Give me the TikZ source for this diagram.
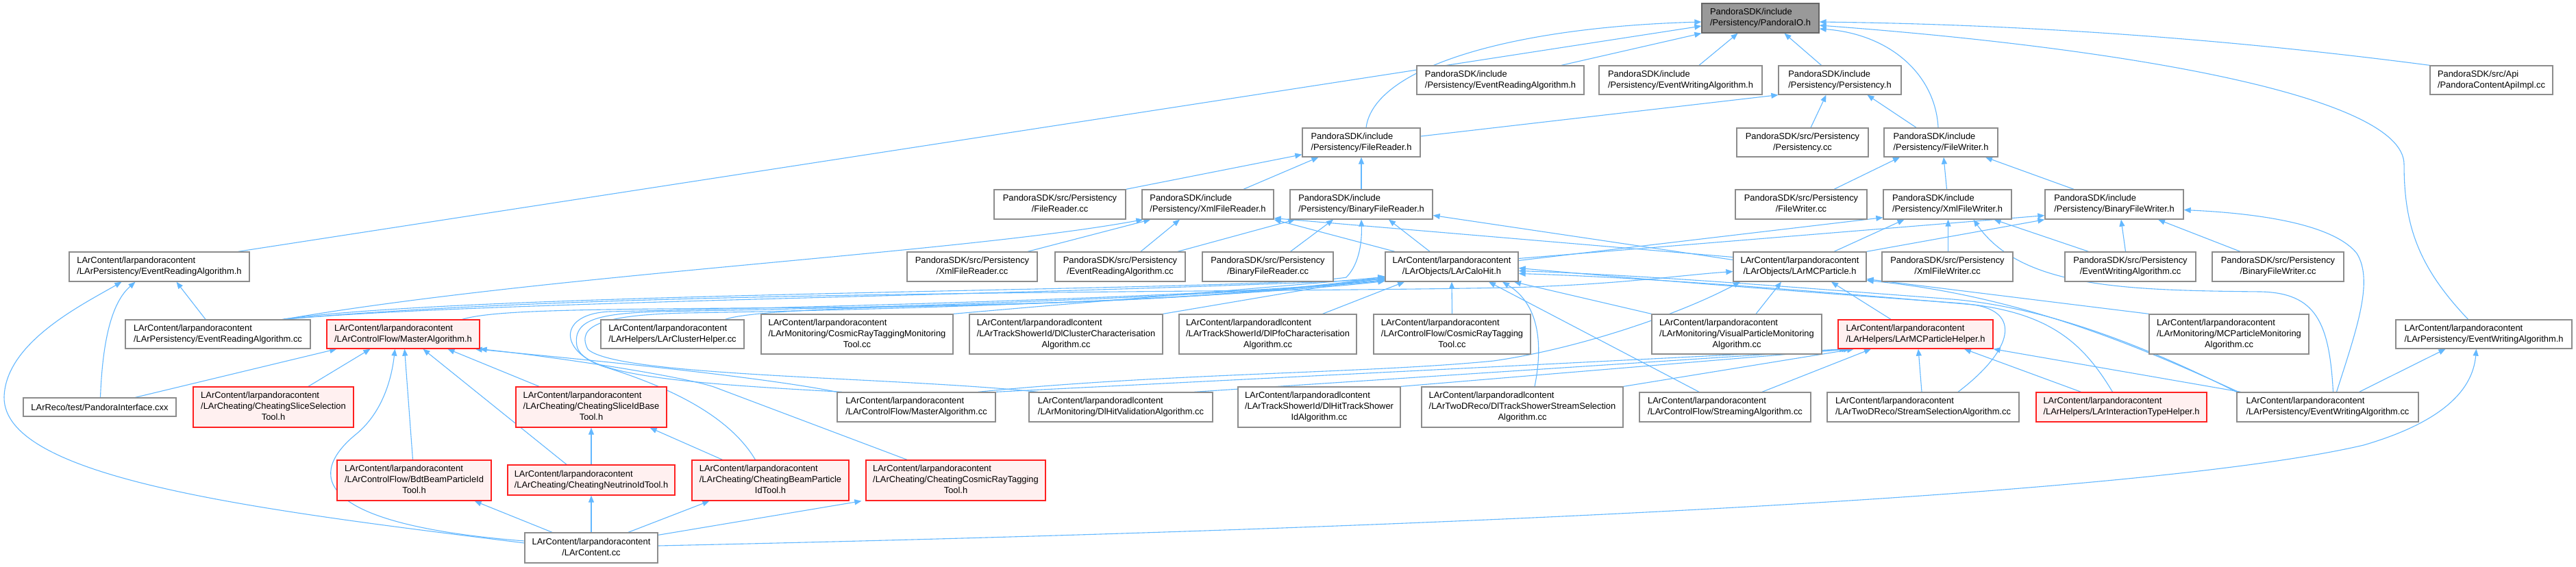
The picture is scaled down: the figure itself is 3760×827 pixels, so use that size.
\documentclass[tikz,border=0pt]{standalone}
\usepackage{fontspec}
\setmainfont{Liberation Sans}
\usetikzlibrary{arrows.meta}
\definecolor{edgecol}{HTML}{63B8FF}
\definecolor{boxdraw}{HTML}{8C8C8C}
\definecolor{redfill}{HTML}{FFF0F0}
\definecolor{redline}{HTML}{FF2020}
\definecolor{mainfill}{HTML}{999999}
\definecolor{maindraw}{HTML}{666666}
\pgfdeclarelayer{bg}
\pgfsetlayers{bg,main}
\newcommand\tw[2]{\begin{tabular}{@{}c@{}}\multicolumn{1}{@{}l@{}}{#1}\\#2\end{tabular}}
\newcommand\tri[3]{\begin{tabular}{@{}c@{}}\multicolumn{1}{@{}l@{}}{#1}\\\multicolumn{1}{@{}l@{}}{#2}\\#3\end{tabular}}
\newcommand\nb[7]{\node[#2,minimum width={#5-#3},minimum height={#6-#4}] (#1) at ({(#3+#5)/2},{(#4+#6)/2}) {#7};}
\tikzset{
  box/.style={draw=boxdraw, fill=white, line width=1.3pt, inner sep=0pt, text=black, font=\fontsize{12.9}{16}\selectfont},
  hot/.style={box, draw=redline, fill=redfill},
  mainbox/.style={box, draw=maindraw, fill=mainfill},
  edge/.style={draw=edgecol, line width=1.1pt, -{Triangle[length=10pt,width=8pt]}}
}
\begin{document}
\begin{tikzpicture}[x=1pt,y=-1pt]
\useasboundingbox (0,0) rectangle (3760,827);
% ---------- nodes ----------
\nb{io}{mainbox}{2484}{5}{2655}{48}{\tw{PandoraSDK/include}{/Persistency/PandoraIO.h}}
\nb{sera}{box}{2068}{96}{2312}{138}{\tw{PandoraSDK/include}{/Persistency/EventReadingAlgorithm.h}}
\nb{sewa}{box}{2334}{96}{2572}{138}{\tw{PandoraSDK/include}{/Persistency/EventWritingAlgorithm.h}}
\nb{persh}{box}{2596}{96}{2775}{138}{\tw{PandoraSDK/include}{/Persistency/Persistency.h}}
\nb{api}{box}{3547}{96}{3726}{138}{\tw{PandoraSDK/src/Api}{/PandoraContentApiImpl.cc}}
\nb{frh}{box}{1901}{187}{2073}{229}{\tw{PandoraSDK/include}{/Persistency/FileReader.h}}
\nb{perscc}{box}{2535}{187}{2727}{229}{\tw{PandoraSDK/src/Persistency}{/Persistency.cc}}
\nb{fwh}{box}{2750}{187}{2916}{229}{\tw{PandoraSDK/include}{/Persistency/FileWriter.h}}
\nb{frcc}{box}{1451}{277}{1643}{320}{\tw{PandoraSDK/src/Persistency}{/FileReader.cc}}
\nb{xfrh}{box}{1667}{277}{1859}{320}{\tw{PandoraSDK/include}{/Persistency/XmlFileReader.h}}
\nb{bfrh}{box}{1883}{277}{2091}{320}{\tw{PandoraSDK/include}{/Persistency/BinaryFileReader.h}}
\nb{fwcc}{box}{2533}{277}{2725}{320}{\tw{PandoraSDK/src/Persistency}{/FileWriter.cc}}
\nb{xfwh}{box}{2749}{277}{2936}{320}{\tw{PandoraSDK/include}{/Persistency/XmlFileWriter.h}}
\nb{bfwh}{box}{2985}{277}{3187}{320}{\tw{PandoraSDK/include}{/Persistency/BinaryFileWriter.h}}
\nb{lerah}{box}{101}{368}{364}{411}{\tw{LArContent/larpandoracontent}{/LArPersistency/EventReadingAlgorithm.h}}
\nb{xfrcc}{box}{1324}{368}{1514}{411}{\tw{PandoraSDK/src/Persistency}{/XmlFileReader.cc}}
\nb{seracc}{box}{1540}{368}{1730}{411}{\tw{PandoraSDK/src/Persistency}{/EventReadingAlgorithm.cc}}
\nb{bfrcc}{box}{1755}{368}{1946}{411}{\tw{PandoraSDK/src/Persistency}{/BinaryFileReader.cc}}
\nb{calo}{box}{2022}{368}{2216}{411}{\tw{LArContent/larpandoracontent}{/LArObjects/LArCaloHit.h}}
\nb{mcp}{box}{2530}{368}{2724}{411}{\tw{LArContent/larpandoracontent}{/LArObjects/LArMCParticle.h}}
\nb{xfwcc}{box}{2747}{368}{2938}{411}{\tw{PandoraSDK/src/Persistency}{/XmlFileWriter.cc}}
\nb{sewacc}{box}{3014}{368}{3205}{411}{\tw{PandoraSDK/src/Persistency}{/EventWritingAlgorithm.cc}}
\nb{bfwcc}{box}{3229}{368}{3421}{411}{\tw{PandoraSDK/src/Persistency}{/BinaryFileWriter.cc}}
\nb{leracc}{box}{183}{467}{453}{509}{\tw{LArContent/larpandoracontent}{/LArPersistency/EventReadingAlgorithm.cc}}
\nb{mash}{hot}{477}{467}{700}{509}{\tw{LArContent/larpandoracontent}{/LArControlFlow/MasterAlgorithm.h}}
\nb{clh}{box}{877}{467}{1086}{509}{\tw{LArContent/larpandoracontent}{/LArHelpers/LArClusterHelper.cc}}
\nb{crtmon}{box}{1111}{459}{1391}{517}{\tri{LArContent/larpandoracontent}{/LArMonitoring/CosmicRayTaggingMonitoring}{Tool.cc}}
\nb{dlcc}{box}{1415}{459}{1697}{517}{\tri{LArContent/larpandoradlcontent}{/LArTrackShowerId/DlClusterCharacterisation}{Algorithm.cc}}
\nb{dlpfo}{box}{1721}{459}{1980}{517}{\tri{LArContent/larpandoradlcontent}{/LArTrackShowerId/DlPfoCharacterisation}{Algorithm.cc}}
\nb{crtt}{box}{2005}{459}{2234}{517}{\tri{LArContent/larpandoracontent}{/LArControlFlow/CosmicRayTagging}{Tool.cc}}
\nb{vpm}{box}{2411}{459}{2659}{517}{\tri{LArContent/larpandoracontent}{/LArMonitoring/VisualParticleMonitoring}{Algorithm.cc}}
\nb{mcph}{hot}{2683}{467}{2909}{509}{\tw{LArContent/larpandoracontent}{/LArHelpers/LArMCParticleHelper.h}}
\nb{mcpmon}{box}{3137}{459}{3370}{517}{\tri{LArContent/larpandoracontent}{/LArMonitoring/MCParticleMonitoring}{Algorithm.cc}}
\nb{lewah}{box}{3497}{467}{3754}{509}{\tw{LArContent/larpandoracontent}{/LArPersistency/EventWritingAlgorithm.h}}
\nb{pint}{box}{34}{581}{257}{608}{LArReco/test/PandoraInterface.cxx}
\nb{cssel}{hot}{282}{565}{516}{624}{\tri{LArContent/larpandoracontent}{/LArCheating/CheatingSliceSelection}{Tool.h}}
\nb{csidb}{hot}{753}{565}{973}{624}{\tri{LArContent/larpandoracontent}{/LArCheating/CheatingSliceIdBase}{Tool.h}}
\nb{mascc}{box}{1222}{573}{1453}{616}{\tw{LArContent/larpandoracontent}{/LArControlFlow/MasterAlgorithm.cc}}
\nb{dlhv}{box}{1502}{573}{1770}{616}{\tw{LArContent/larpandoradlcontent}{/LArMonitoring/DlHitValidationAlgorithm.cc}}
\nb{dlhts}{box}{1807}{565}{2044}{624}{\tri{LArContent/larpandoradlcontent}{/LArTrackShowerId/DlHitTrackShower}{IdAlgorithm.cc}}
\nb{dltss}{box}{2075}{565}{2369}{624}{\tri{LArContent/larpandoradlcontent}{/LArTwoDReco/DlTrackShowerStreamSelection}{Algorithm.cc}}
\nb{stream}{box}{2393}{573}{2643}{616}{\tw{LArContent/larpandoracontent}{/LArControlFlow/StreamingAlgorithm.cc}}
\nb{ssel}{box}{2667}{573}{2947}{616}{\tw{LArContent/larpandoracontent}{/LArTwoDReco/StreamSelectionAlgorithm.cc}}
\nb{itype}{hot}{2972}{573}{3221}{616}{\tw{LArContent/larpandoracontent}{/LArHelpers/LArInteractionTypeHelper.h}}
\nb{lewacc}{box}{3265}{573}{3530}{616}{\tw{LArContent/larpandoracontent}{/LArPersistency/EventWritingAlgorithm.cc}}
\nb{bdt}{hot}{492}{672}{717}{731}{\tri{LArContent/larpandoracontent}{/LArControlFlow/BdtBeamParticleId}{Tool.h}}
\nb{cnid}{hot}{741}{679}{985}{723}{\tw{LArContent/larpandoracontent}{/LArCheating/CheatingNeutrinoIdTool.h}}
\nb{cbp}{hot}{1010}{672}{1239}{731}{\tri{LArContent/larpandoracontent}{/LArCheating/CheatingBeamParticle}{IdTool.h}}
\nb{ccrt}{hot}{1264}{672}{1526}{731}{\tri{LArContent/larpandoracontent}{/LArCheating/CheatingCosmicRayTagging}{Tool.h}}
\nb{larc}{box}{766}{778}{960}{822}{\tw{LArContent/larpandoracontent}{/LArContent.cc}}
% ---------- edges ----------
\begin{pgfonlayer}{bg}
\fill[white] (0,0) rectangle (3760,827);
% to PandoraIO.h
\draw[edge] ([xshift=115pt]lerah.north) -- ([yshift=-11.5pt]io.west);
\draw[edge] ([xshift=7pt]frh.north) .. controls (2005,100) and (2200,40) .. ([yshift=-5.5pt]io.west);
\draw[edge] ([xshift=89pt]sera.north) -- (io.south west);
\draw[edge] ([xshift=27pt]sewa.north) -- ([xshift=-33pt]io.south);
\draw[edge] ([xshift=-27pt]persh.north) -- ([xshift=35pt]io.south);
\draw[edge] ([xshift=-4pt]fwh.north) .. controls (2825,110) and (2760,50) .. ([yshift=-15.5pt]io.east);
\draw[edge] (api.north west) .. controls (3200,50) and (2900,35) .. ([yshift=-5.5pt]io.east);
\draw[edge] ([xshift=-23pt]lewah.north) .. controls (3530,390) and (3509,330) .. (3509,240) .. controls (3509,140) and (3100,70) .. ([yshift=-10.5pt]io.east);
% to Persistency.h
\draw[edge] ([yshift=9pt]frh.east) -- (persh.south west);
\draw[edge] ([xshift=12pt]perscc.north) -- ([xshift=-20pt]persh.south);
\draw[edge] ([xshift=-36pt]fwh.north) -- ([xshift=40pt]persh.south);
% to FileReader.h
\draw[edge] (frcc.north east) -- ([yshift=4pt]frh.south west);
\draw[edge] ([xshift=52pt]xfrh.north) -- ([xshift=24pt]frh.south west);
\draw[edge] (bfrh.north) -- (frh.south);
% to FileWriter.h
\draw[edge] ([xshift=48pt]fwcc.north) -- ([xshift=-60pt]fwh.south);
\draw[edge] ([xshift=-1pt]xfwh.north) -- ([xshift=4pt]fwh.south);
\draw[edge] ([xshift=-59pt]bfwh.north) -- ([xshift=65pt]fwh.south);
% to XmlFileReader.h
\draw[edge] ([xshift=81pt]xfrcc.north) -- ([xshift=13pt]xfrh.south west);
\draw[edge] ([xshift=30pt]seracc.north) -- ([xshift=-41pt]xfrh.south);
\draw[edge] ([xshift=96pt]leracc.north) .. controls (800,400) and (1400,370) .. ([xshift=2pt]xfrh.south west);
\draw[edge] ([xshift=-83pt]calo.north) -- (xfrh.south east);
\draw[edge] ([yshift=14pt]mcp.west) -- ([yshift=2pt]xfrh.south east);
% to BinaryFileReader.h
\draw[edge] ([xshift=84pt]seracc.north) -- ([xshift=8pt]bfrh.south west);
\draw[edge] ([xshift=33pt]bfrcc.north) -- ([xshift=-41pt]bfrh.south);
\draw[edge] ([xshift=-32pt]calo.north) -- ([xshift=40pt]bfrh.south);
\draw[edge] ([yshift=10pt]mcp.west) -- ([yshift=-16pt]bfrh.east);
\draw[edge] ([xshift=94pt]leracc.north) .. controls (700,425) and (1850,425) .. (1965,405) .. controls (1985,385) and (1988,350) .. (bfrh.south);
% to XmlFileWriter.h
\draw[edge] ([xshift=1pt]xfwcc.north) -- ([xshift=1pt]xfwh.south);
\draw[edge] ([xshift=-61pt]sewacc.north) -- ([xshift=68pt]xfwh.south);
\draw[edge] ([yshift=9pt]calo.east) -- ([yshift=3pt]xfwh.south west);
\draw[edge] ([xshift=50pt]mcp.north) -- ([xshift=-63pt]xfwh.south);
\draw[edge] ([xshift=8pt]lewacc.north) .. controls (3400,470) and (3380,428) .. (3300,426) .. controls (3100,424) and (2950,420) .. ([xshift=38pt]xfwh.south);
% to BinaryFileWriter.h
\draw[edge] ([yshift=12pt]calo.east) -- ([yshift=6pt]bfwh.south west);
\draw[edge] (mcp.north east) -- (bfwh.south west);
\draw[edge] ([xshift=-7pt]sewacc.north) -- ([xshift=10pt]bfwh.south);
\draw[edge] ([xshift=-55pt]bfwcc.north) -- ([xshift=64pt]bfwh.south);
\draw[edge] ([xshift=13pt]lewacc.north) .. controls (3440,480) and (3465,410) .. (3440,370) .. controls (3400,320) and (3260,310) .. ([yshift=-8pt]bfwh.east);
% to LAr EventReadingAlgorithm.h
\draw[edge] ([xshift=-18pt]leracc.north) -- ([xshift=25pt]lerah.south);
\draw[edge] ([xshift=1pt]pint.north) .. controls (150,490) and (165,440) .. ([xshift=-35pt]lerah.south);
\draw[edge] ([yshift=7pt]larc.west) .. controls (380,745) and (5,700) .. (6,580) .. controls (8,500) and (120,445) .. ([xshift=-55pt]lerah.south);
% to MasterAlgorithm.h
\draw[edge] ([xshift=52pt]pint.north) -- ([xshift=15pt]mash.south west);
\draw[edge] ([xshift=51pt]cssel.north) -- ([xshift=-48pt]mash.south);
\draw[edge] ([yshift=10pt]larc.west) .. controls (450,765) and (450,690) .. (521,633) .. controls (560,600) and (572,550) .. ([xshift=-12pt]mash.south);
\draw[edge] ([xshift=-2pt]bdt.north) -- ([xshift=2pt]mash.south);
\draw[edge] ([xshift=-36pt]cnid.north) -- ([xshift=29pt]mash.south);
\draw[edge] ([xshift=-76pt]csidb.north) -- ([xshift=65pt]mash.south);
\draw[edge] (mascc.north west) .. controls (1100,548) and (820,522) .. ([xshift=-7pt]mash.south east);
\draw[edge] ([xshift=-71pt]ccrt.north) -- (1042,565) .. controls (990,548) and (800,520) .. (mash.south east);
% to CheatingSliceIdBaseTool.h
\draw[edge] (cnid.north) -- (csidb.south);
\draw[edge] ([xshift=-70pt]cbp.north) -- ([xshift=-25pt]csidb.south east);
% from LArContent.cc
\draw[edge] ([xshift=-57pt]larc.north) -- ([xshift=-25pt]bdt.south east);
\draw[edge] (larc.north) -- (cnid.south);
\draw[edge] ([xshift=54pt]larc.north) -- ([xshift=26pt]cbp.south west);
\draw[edge] ([yshift=-4pt]larc.north east) -- ([xshift=-6pt]ccrt.south west);
\draw[edge] ([yshift=3pt]larc.east) .. controls (2200,770) and (3150,720) .. (3450,650) .. controls (3580,612) and (3610,560) .. ([xshift=-11pt]lewah.south);
\draw[edge] ([xshift=46pt]lewacc.north) -- ([xshift=-56pt]lewah.south);
% to LArCaloHit.h
\draw[edge] ([xshift=96pt]leracc.north) .. controls (700,440) and (1500,432) .. ([yshift=-18pt]calo.west);
\draw[edge] ([xshift=86pt]mash.north) .. controls (730,450) and (900,452) .. (1300,448) .. controls (1700,442) and (1900,422) .. ([yshift=-17pt]calo.west);
\draw[edge] ([xshift=77pt]clh.north) .. controls (1100,452) and (1300,448) .. (1500,443) .. controls (1750,436) and (1900,420) .. ([yshift=-16pt]calo.west);
\draw[edge] (crtmon.north east) .. controls (1600,440) and (1850,420) .. ([yshift=-15pt]calo.west);
\draw[edge] (dlcc.north east) -- ([yshift=-14pt]calo.west);
\draw[edge] ([xshift=80pt]dlpfo.north) -- ([xshift=-69pt]calo.south);
\draw[edge] (crtt.north) -- (calo.south);
\draw[edge] (vpm.north west) -- ([xshift=91pt]calo.south);
\draw[edge] ([xshift=18pt]dltss.north) .. controls (2255,490) and (2240,440) .. ([xshift=74pt]calo.south);
\draw[edge] ([xshift=-38pt]stream.north) -- ([xshift=54pt]calo.south);
\draw[edge] ([xshift=51pt]ssel.north) .. controls (2940,510) and (2950,455) .. (2880,445) .. controls (2650,425) and (2400,405) .. ([yshift=-10pt]calo.east);
\draw[edge] (lewacc.north west) .. controls (3150,515) and (3000,450) .. (2850,437) .. controls (2600,418) and (2400,402) .. ([yshift=-6pt]calo.east);
\draw[edge] ([xshift=-13pt]itype.north) .. controls (3040,500) and (2990,452) .. (2850,442) .. controls (2600,424) and (2400,408) .. ([yshift=-2pt]calo.east);
\draw[edge] ([xshift=-22pt]cbp.north) .. controls (1060,600) and (960,560) .. (880,535) .. controls (815,512) and (815,458) .. (890,455) .. controls (1300,446) and (1800,432) .. ([yshift=-19pt]calo.west);
\draw[edge] ([xshift=8pt]mascc.north west) .. controls (1000,560) and (850,548) .. (842,505) .. controls (836,468) and (870,458) .. (960,455) .. controls (1400,448) and (1850,428) .. ([yshift=-20pt]calo.west);
\draw[edge] ([xshift=-121pt]dlhv.north) .. controls (1300,550) and (900,550) .. (858,510) .. controls (840,475) and (880,460) .. (1000,457) .. controls (1450,450) and (1850,430) .. ([yshift=-21pt]calo.west);
% to LArMCParticleHelper.h
\draw[edge] (mascc.north east) -- ([xshift=-101pt]mcph.south);
\draw[edge] ([xshift=107pt]dlhv.north) -- ([xshift=-98pt]mcph.south);
\draw[edge] (dlhts.north east) -- ([xshift=-95pt]mcph.south);
\draw[edge] (dltss.north east) -- ([xshift=-90pt]mcph.south);
\draw[edge] ([xshift=54pt]stream.north) -- ([xshift=-65pt]mcph.south);
\draw[edge] ([xshift=-2pt]ssel.north) -- ([xshift=4pt]mcph.south);
\draw[edge] ([xshift=-59pt]itype.north) -- ([xshift=71pt]mcph.south);
\draw[edge] ([xshift=-127pt]lewacc.north) -- (mcph.south east);
% to LArMCParticle.h
\draw[edge] ([xshift=96pt]leracc.north) .. controls (900,422) and (1800,428) .. (2200,420) .. controls (2360,416) and (2450,402) .. ([yshift=-7pt]mcp.west);
\draw[edge] ([xshift=90pt]mascc.north) .. controls (1700,545) and (2000,545) .. (2180,527) .. controls (2300,510) and (2450,460) .. ([xshift=-87pt]mcp.south);
\draw[edge] ([xshift=28pt]vpm.north) -- ([xshift=-27pt]mcp.south);
\draw[edge] ([xshift=-36pt]mcph.north) -- ([xshift=46pt]mcp.south);
\draw[edge] (mcpmon.north west) -- ([yshift=-18pt]mcp.east);
\draw[edge] ([xshift=3pt]lewacc.north west) .. controls (3120,505) and (2950,432) .. ([yshift=-20pt]mcp.east);
\end{pgfonlayer}
\end{tikzpicture}
\end{document}
